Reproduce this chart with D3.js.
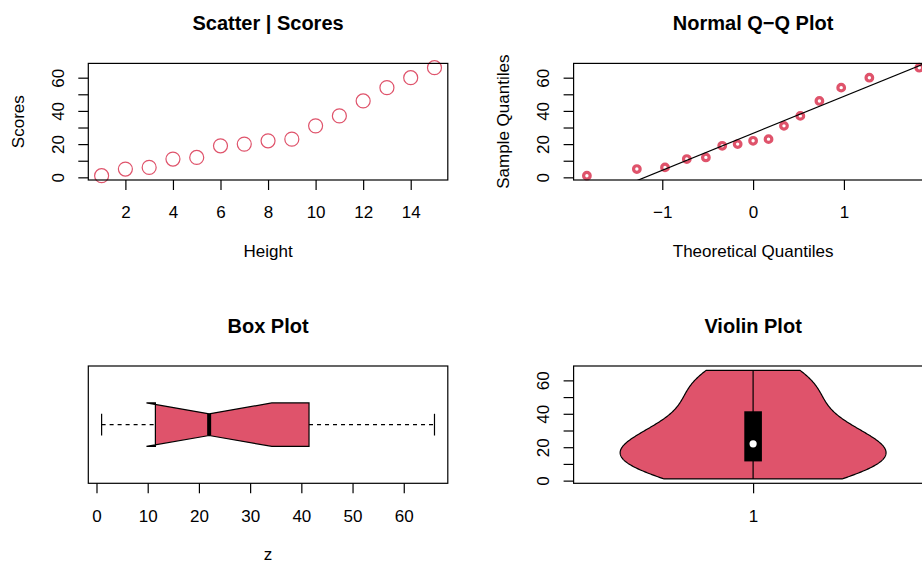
<!DOCTYPE html>
<html>
<head>
<meta charset="utf-8">
<title>Scores</title>
<script src="https://cdn.jsdelivr.net/npm/d3@7"></script>
<style>
  body { margin: 0; background: #fff; }
  svg { display: block; font-family: "Liberation Sans", Arial, Helvetica, sans-serif; }
</style>
</head>
<body>
<script>
// ---- data ----
const heights = [1, 2, 3, 4, 5, 6, 7, 8, 9, 10, 11, 12, 13, 14, 15];
const scores = [1, 5, 6, 11, 12, 19, 20, 22, 23, 31, 37, 46, 54, 60, 66];
// theoretical normal quantiles for the 15 sorted scores
const theoreticalQuantiles = [-1.83, -1.28, -0.97, -0.73, -0.52, -0.34, -0.17, 0,
                              0.17, 0.34, 0.52, 0.73, 0.97, 1.28, 1.83];
const qqLineX = [-0.674, 0.674];   // normal quartiles used by the reference line

// ---- tick labels ----
const heightTicks = [2, 4, 6, 8, 10, 12, 14];
const scoreTicks = [0, 10, 20, 30, 40, 50, 60];
const scoreTickLabels = ["0", "", "20", "", "40", "", "60"];
const qqTicks = [-1, 0, 1];
const qqTickLabels = ["\u22121", "0", "1"];
const zTicks = [0, 10, 20, 30, 40, 50, 60];
const zTickLabels = ["0", "10", "20", "30", "40", "50", "60"];
const violinTicks = [1];
const violinTickLabels = ["1"];
const titles = ["Scatter | Scores", "Normal Q\u2212Q Plot", "Box Plot", "Violin Plot"];

const red = '#DF536B';
const fontSize = 17;

document.addEventListener('DOMContentLoaded', function() {
    const svg = d3.select('body').append('svg')
        .attr('width', 922)
        .attr('height', 563);
    svg.append('rect').attr('width', 922).attr('height', 563).attr('fill', '#fff');

    // plot regions (pixels) for the 2x2 layout
    const cols = [[88.3, 447.8], [573.6, 932.6]];
    const rows = [[63.4, 180], [366, 483.3]];

    // R style 4% axis padding
    function rPad(ext) {
        const s = ext[1] - ext[0];
        return [ext[0] - 0.04 * s, ext[1] + 0.04 * s];
    }

    function panel(c, r, title, xlab, ylab) {
        const [x0, x1] = cols[c], [y0, y1] = rows[r];
        const g = svg.append('g');
        const cx = (x0 + x1) / 2;
        g.append('text').attr('x', cx).attr('y', y0 - 33.4)
            .attr('text-anchor', 'middle').attr('font-weight', 'bold')
            .attr('font-size', 20).text(title);
        if (xlab) {
            g.append('text').attr('x', cx).attr('y', y1 + 77)
                .attr('text-anchor', 'middle').attr('font-size', fontSize).text(xlab);
        }
        if (ylab) {
            g.append('text')
                .attr('transform', `translate(${x0 - 64.5},${(y0 + y1) / 2}) rotate(-90)`)
                .attr('text-anchor', 'middle').attr('font-size', fontSize).text(ylab);
        }
        return {g, x0, x1, y0, y1};
    }

    function frame(p) {
        p.g.append('rect')
            .attr('x', p.x0).attr('y', p.y0)
            .attr('width', p.x1 - p.x0).attr('height', p.y1 - p.y0)
            .attr('fill', 'none').attr('stroke', '#000').attr('stroke-width', 1.2);
    }

    function styleAxis(ax) {
        ax.attr('font-size', fontSize).attr('font-family', null);
        ax.select('.domain').remove();
        ax.selectAll('.tick line').attr('stroke', '#000').attr('stroke-width', 1.2);
        ax.selectAll('.tick text').attr('fill', '#000');
    }

    function bottomAxis(p, scale, ticks, labels) {
        const ax = p.g.append('g')
            .attr('transform', `translate(0,${p.y1})`)
            .call(d3.axisBottom(scale).tickValues(ticks)
                .tickFormat((d, i) => labels[i]).tickSize(10).tickPadding(16.2));
        styleAxis(ax);
    }

    function leftAxis(p, scale, ticks, labels) {
        const ax = p.g.append('g')
            .attr('transform', `translate(${p.x0},0)`)
            .call(d3.axisLeft(scale).tickValues(ticks)
                .tickFormat((d, i) => labels[i]).tickSize(10));
        styleAxis(ax);
        // labels run parallel to the axis
        ax.selectAll('.tick text')
            .attr('transform', 'rotate(-90)')
            .attr('x', 0).attr('y', -24.5).attr('dy', null)
            .attr('text-anchor', 'middle');
    }

    const scoreDomain = rPad(d3.extent(scores));

    // ---- Scatter ----
    const p1 = panel(0, 0, titles[0], 'Height', 'Scores');
    const x1 = d3.scaleLinear().domain(rPad(d3.extent(heights))).range([p1.x0, p1.x1]);
    const y1 = d3.scaleLinear().domain(scoreDomain).range([p1.y1, p1.y0]);
    p1.g.selectAll('circle.pt').data(heights).enter().append('circle')
        .attr('cx', d => x1(d))
        .attr('cy', (d, i) => y1(scores[i]))
        .attr('r', 7)
        .attr('fill', 'none').attr('stroke', red).attr('stroke-width', 1.2);
    frame(p1);
    bottomAxis(p1, x1, heightTicks, heightTicks.map(String));
    leftAxis(p1, y1, scoreTicks, scoreTickLabels);

    // ---- Normal Q-Q ----
    const p2 = panel(1, 0, titles[1], 'Theoretical Quantiles', 'Sample Quantiles');
    const x2 = d3.scaleLinear().domain(rPad(d3.extent(theoreticalQuantiles))).range([p2.x0, p2.x1]);
    const y2 = d3.scaleLinear().domain(scoreDomain).range([p2.y1, p2.y0]);
    svg.append('clipPath').attr('id', 'qqclip').append('rect')
        .attr('x', p2.x0).attr('y', p2.y0)
        .attr('width', p2.x1 - p2.x0).attr('height', p2.y1 - p2.y0);
    const sorted = scores.slice().sort(d3.ascending);
    p2.g.selectAll('circle.pt').data(theoreticalQuantiles).enter().append('circle')
        .attr('cx', d => x2(d))
        .attr('cy', (d, i) => y2(sorted[i]))
        .attr('r', 3.3)
        .attr('fill', 'none').attr('stroke', red).attr('stroke-width', 3.2);
    // reference line through the quartiles
    const qy = [d3.quantile(sorted, 0.25), d3.quantile(sorted, 0.75)];
    const slope = (qy[1] - qy[0]) / (qqLineX[1] - qqLineX[0]);
    const icpt = qy[0] - slope * qqLineX[0];
    const xd = x2.domain();
    p2.g.append('line')
        .attr('clip-path', 'url(#qqclip)')
        .attr('x1', x2(xd[0])).attr('y1', y2(icpt + slope * xd[0]))
        .attr('x2', x2(xd[1])).attr('y2', y2(icpt + slope * xd[1]))
        .attr('stroke', '#000').attr('stroke-width', 1.2);
    frame(p2);
    bottomAxis(p2, x2, qqTicks, qqTickLabels);
    leftAxis(p2, y2, scoreTicks, scoreTickLabels);

    // ---- Box plot (horizontal, notched) ----
    const p3 = panel(0, 1, titles[2], 'z', null);
    const x3 = d3.scaleLinear().domain(scoreDomain).range([p3.x0, p3.x1]);
    const y3 = d3.scaleLinear().domain(rPad([0.5, 1.5])).range([p3.y1, p3.y0]);
    const lo = d3.min(scores), hi = d3.max(scores);
    const q1 = d3.quantile(sorted, 0.25), med = d3.median(sorted), q3 = d3.quantile(sorted, 0.75);
    const nch = 1.58 * (q3 - q1) / Math.sqrt(scores.length);
    const half = 0.2, notchHalf = 0.1, staple = 0.1;
    // whiskers
    [[lo, q1], [q3, hi]].forEach(w => {
        p3.g.append('line')
            .attr('x1', x3(w[0])).attr('x2', x3(w[1]))
            .attr('y1', y3(1)).attr('y2', y3(1))
            .attr('stroke', '#000').attr('stroke-width', 1.2).attr('stroke-dasharray', '4,4');
    });
    [lo, hi].forEach(v => {
        p3.g.append('line')
            .attr('x1', x3(v)).attr('x2', x3(v))
            .attr('y1', y3(1 - staple)).attr('y2', y3(1 + staple))
            .attr('stroke', '#000').attr('stroke-width', 1.2);
    });
    const boxPts = [
        [q1, 1 + half], [med - nch, 1 + half], [med, 1 + notchHalf], [med + nch, 1 + half], [q3, 1 + half],
        [q3, 1 - half], [med + nch, 1 - half], [med, 1 - notchHalf], [med - nch, 1 - half], [q1, 1 - half]
    ];
    p3.g.append('path')
        .attr('d', d3.line().x(d => x3(d[0])).y(d => y3(d[1]))(boxPts) + 'Z')
        .attr('fill', red).attr('stroke', '#000').attr('stroke-width', 1.2)
        .attr('stroke-linejoin', 'miter');
    p3.g.append('line')
        .attr('x1', x3(med)).attr('x2', x3(med))
        .attr('y1', y3(1 + notchHalf)).attr('y2', y3(1 - notchHalf))
        .attr('stroke', '#000').attr('stroke-width', 4);
    frame(p3);
    bottomAxis(p3, x3, zTicks, zTickLabels);

    // ---- Violin ----
    const p4 = panel(1, 1, titles[3], null, null);
    const x4 = d3.scaleLinear().domain(rPad([0.5, 1.5])).range([p4.x0, p4.x1]);
    const y4 = d3.scaleLinear().domain(scoreDomain).range([p4.y1, p4.y0]);
    // gaussian kernel density, normal reference bandwidth
    const bw = d3.deviation(scores) * Math.pow(4 / (3 * scores.length), 0.2);
    const ngrid = 200;
    const dens = d3.range(ngrid).map(i => {
        const t = lo + (hi - lo) * i / (ngrid - 1);
        return {t: t, d: d3.sum(scores, v => Math.exp(-0.5 * ((t - v) / bw) ** 2))};
    });
    const dmax = d3.max(dens, d => d.d);
    const area = d3.area()
        .y(d => y4(d.t))
        .x0(d => x4(1 - 0.4 * d.d / dmax))
        .x1(d => x4(1 + 0.4 * d.d / dmax));
    p4.g.append('path').datum(dens)
        .attr('d', area)
        .attr('fill', red).attr('stroke', '#000').attr('stroke-width', 1.2);
    p4.g.append('line')
        .attr('x1', x4(1)).attr('x2', x4(1))
        .attr('y1', y4(lo)).attr('y2', y4(hi))
        .attr('stroke', '#000').attr('stroke-width', 1.2);
    p4.g.append('rect')
        .attr('x', x4(1 - 0.0265)).attr('width', x4(1 + 0.0265) - x4(1 - 0.0265))
        .attr('y', y4(q3)).attr('height', y4(q1) - y4(q3))
        .attr('fill', '#000');
    p4.g.append('circle')
        .attr('cx', x4(1)).attr('cy', y4(med)).attr('r', 3.6)
        .attr('fill', '#fff');
    frame(p4);
    bottomAxis(p4, x4, violinTicks, violinTickLabels);
    leftAxis(p4, y4, scoreTicks, scoreTickLabels);
});
</script>
</body>
</html>
